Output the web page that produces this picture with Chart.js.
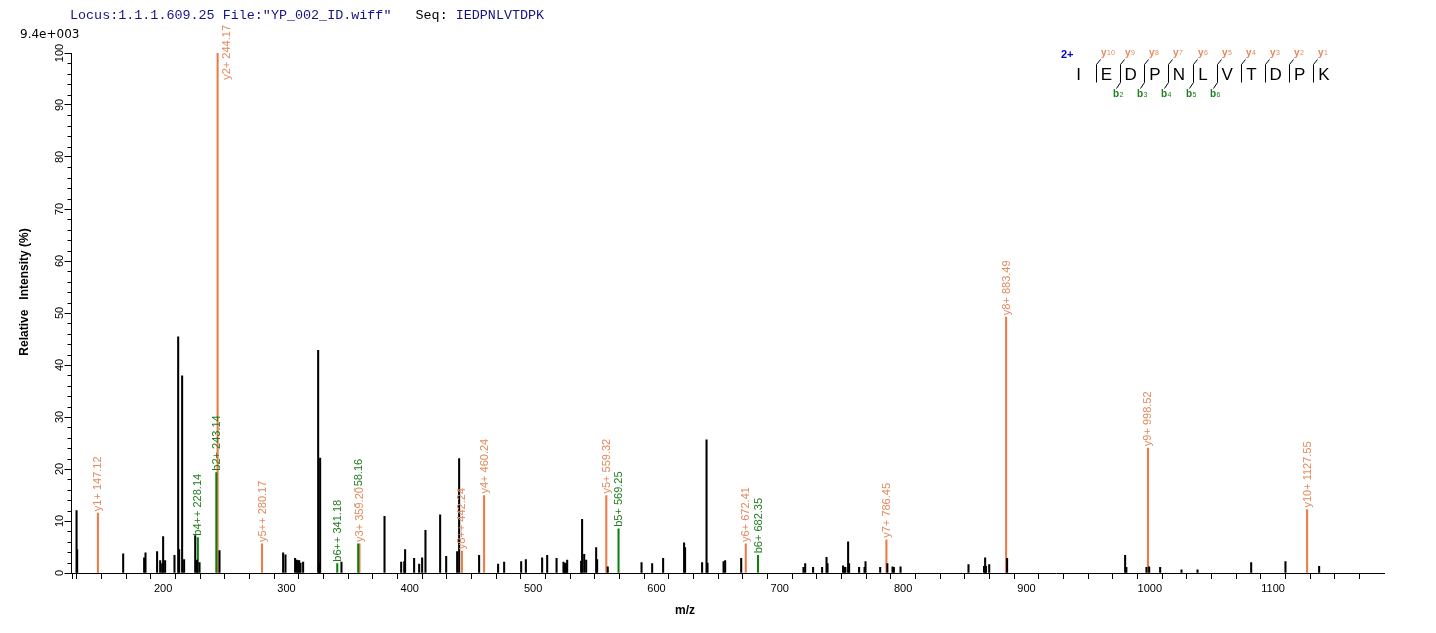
<!DOCTYPE html>
<html>
<head>
<meta charset="utf-8">
<script src="https://cdn.jsdelivr.net/npm/chart.js@4.4.1/dist/chart.umd.min.js"></script>
<style>
html,body{margin:0;padding:0;background:#fff;overflow:hidden;}
#wrap{position:relative;width:1436px;height:633px;}
canvas{display:block;}
</style>
</head>
<body>
<div id="wrap"><canvas id="c" width="1436" height="633"></canvas></div>
<script>
// ---------- text ----------
const headerLocus = 'Locus:1.1.1.609.25 File:"YP_002_ID.wiff"';
const headerSeqLabel = 'Seq:';
const peptide = 'IEDPNLVTDPK';
const maxIntensityLabel = '9.4e+003';
const xTitle = 'm/z';
const yTitle = 'Relative   Intensity (%)';
const chargeLabel = '2+';

// ---------- axes ----------
const xMin = 125.7, xMax = 1189.9;
const xTickValues = [140,160,180,200,220,240,260,280,300,320,340,360,380,400,420,440,460,480,500,520,540,560,580,600,620,640,660,680,700,720,740,760,780,800,820,840,860,880,900,920,940,960,980,1000,1020,1040,1060,1080,1100,1120,1140,1160,1180];
const xLabelValues = [200,300,400,500,600,700,800,900,1000,1100];
const xTickLabels = ['200','300','400','500','600','700','800','900','1000','1100'];
const yMajorValues = [0,10,20,30,40,50,60,70,80,90,100];
const yTickLabels = ['0','10','20','30','40','50','60','70','80','90','100'];
const yMinorValues = [2,4,6,8,12,14,16,18,22,24,26,28,32,34,36,38,42,44,46,48,52,54,56,58,62,64,66,68,72,74,76,78,82,84,86,88,92,94,96,98];

// ---------- unassigned peaks ----------
const otherMz = [129.8,130.3,167.6,184.6,185.7,195.1,197.6,199.2,200.0,201.6,209.2,212.2,213.0,215.4,217.0,226.0,227.5,229.5,245.7,297.3,299.2,307.0,308.3,309.5,310.3,311.4,313.5,325.7,326.5,327.3,344.6,379.5,393.0,395.5,396.2,403.5,407.6,410.0,412.7,424.6,429.5,438.4,440.0,456.2,471.6,476.5,490.3,494.1,507.3,511.4,519.0,524.6,525.4,526.2,527.0,527.6,538.9,539.7,541.4,543.0,551.1,551.9,560.5,587.9,596.5,605.4,622.4,623.2,637.0,640.6,641.4,654.4,655.7,668.7,719.2,720.6,727.0,734.3,737.9,738.7,751.3,752.4,753.2,755.4,756.2,764.3,768.7,769.5,781.4,787.2,791.4,792.5,797.9,853.0,865.6,866.5,867.2,869.8,884.3,980.0,981.0,997.3,999.5,1008.4,1025.7,1038.7,1082.2,1110.0,1137.3];
const otherInt = [12.0,4.5,3.7,2.9,3.9,4.1,2.4,1.8,7.0,2.4,3.4,45.4,4.5,37.9,2.6,7.2,2.5,2.0,4.3,3.9,3.5,2.8,2.5,2.4,2.4,1.9,2.1,42.8,1.8,22.1,2.1,10.9,2.1,2.2,4.5,2.8,1.7,2.9,8.2,11.2,3.2,4.1,22.0,3.4,1.7,2.1,2.2,2.6,2.9,3.4,2.8,2.1,1.8,1.9,1.8,2.5,2.3,10.3,3.6,2.5,4.9,2.6,1.2,2.0,1.8,2.8,5.8,4.9,2.0,25.6,1.9,2.2,2.4,2.8,1.1,1.8,1.1,1.1,3.0,1.8,1.4,1.1,1.1,6.0,1.8,1.1,1.1,2.2,1.1,1.8,1.2,1.1,1.2,1.6,1.3,2.9,1.3,1.6,2.8,3.4,1.1,1.1,1.2,1.1,0.6,0.6,2.0,2.2,1.3];

// ---------- y ions ----------
const yIonNames = ['y1+','y2+','y5++','y3+','y8++','y4+','y5+','y6+','y7+','y8+','y9+','y10+'];
const yIonMz = [147.12,244.17,280.17,359.20,442.24,460.24,559.32,672.41,786.45,883.49,998.52,1127.55];
const yIonInt = [11.5,100,5.6,5.6,4.2,14.9,14.9,5.6,6.4,49.2,24.0,12.2];

// ---------- b ions ----------
const bIonNames = ['b4++','b2+','b6++','b3+','b5+','b6+'];
const bIonMz = [228.14,243.14,341.18,358.16,569.25,682.35];
const bIonInt = [6.8,19.3,1.8,5.6,8.5,3.4];

// ---------- sequence annotation ----------
const yIonsInSeq = [10,9,8,7,6,5,4,3,2,1];
const bIonsInSeq = [2,3,4,5,6];

const FONT = 'Arial, "Liberation Sans", sans-serif';
const MONO = '"Liberation Mono", "Courier New", monospace';
const ORANGE_LINE = '#EE7A46';
const ORANGE_TEXT = '#E3895C';
const GREEN_LINE = '#0B800B';
const GREEN_TEXT = '#1F7D1F';

function pts(mz, it){ return mz.map((m,i)=>({x:m, y:it[i]})); }

const decorPlugin = {
  id: 'decor',
  afterDatasetsDraw(chart){
    const ctx = chart.ctx, xs = chart.scales.x, ys = chart.scales.y;
    ctx.save();
    ctx.font = '11px ' + FONT;
    const placed = [];
    const mk = (names, mzs, ints, color) => names.map((n,i)=>({text: n+' '+mzs[i].toFixed(2), mz: mzs[i], it: ints[i], color}));
    const yItems = mk(yIonNames, yIonMz, yIonInt, ORANGE_TEXT);
    const bItems = mk(bIonNames, bIonMz, bIonInt, GREEN_TEXT);
    const overlap = (a,b)=> a.l < b.r && b.l < a.r && a.t < b.b && b.t < a.b;
    function place(item){
      const px = xs.getPixelForValue(item.mz), py = ys.getPixelForValue(item.it);
      const w = ctx.measureText(item.text).width;
      let cx = px, bottom = py - 2;
      if (bottom - w < 22) { cx = px + 9; bottom = 25 + w; }
      let rect = {l: cx-5, r: cx+5, t: bottom-w, b: bottom};
      for (const p of placed) {
        if (overlap(rect, p.rect)) { bottom = p.rect.b - w/2; rect = {l: cx-5, r: cx+5, t: bottom-w, b: bottom}; }
      }
      item.cx = cx; item.bottom = bottom; item.w = w; item.rect = rect;
      placed.push(item);
    }
    yItems.forEach(place);
    bItems.forEach(place);
    function draw(item, bg){
      if (bg) { ctx.fillStyle = '#fff'; ctx.fillRect(item.cx-5, item.bottom-item.w-1, 10, item.w+2); }
      ctx.save();
      ctx.translate(item.cx, item.bottom);
      ctx.rotate(-Math.PI/2);
      ctx.textAlign = 'left';
      ctx.textBaseline = 'middle';
      ctx.fillStyle = item.color;
      ctx.fillText(item.text, 0, 0.5);
      ctx.restore();
    }
    bItems.forEach(it=>draw(it,false));
    yItems.forEach(it=>draw(it, bItems.some(b=>overlap(it.rect,b.rect))));
    ctx.restore();
  },
  afterDraw(chart){
    const ctx = chart.ctx, ys = chart.scales.y;
    const left = chart.chartArea.left, bottom = chart.chartArea.bottom;
    ctx.save();
    // header
    ctx.font = '13.4px ' + MONO;
    ctx.textBaseline = 'alphabetic';
    ctx.textAlign = 'left';
    let hx = 70;
    ctx.fillStyle = '#14148A';
    ctx.fillText(headerLocus, hx, 19);
    hx += ctx.measureText(headerLocus + '   ').width;
    ctx.fillStyle = '#000';
    ctx.fillText(headerSeqLabel, hx, 19);
    hx += ctx.measureText(headerSeqLabel + ' ').width;
    ctx.fillStyle = '#14148A';
    ctx.fillText(peptide, hx, 19);
    // max intensity
    ctx.font = '12px "DejaVu Sans", sans-serif';
    ctx.fillStyle = '#000';
    ctx.fillText(maxIntensityLabel, 20, 38);
    // y minor ticks
    ctx.strokeStyle = '#000';
    ctx.lineWidth = 1;
    ctx.beginPath();
    yMinorValues.forEach(v=>{
      const py = Math.round(ys.getPixelForValue(v)) + 0.5;
      ctx.moveTo(left - 4, py); ctx.lineTo(left, py);
    });
    ctx.moveTo(Math.round(left)+0.5, bottom); ctx.lineTo(Math.round(left)+0.5, bottom + 6);
    ctx.stroke();
    // y tick labels (rotated)
    ctx.font = '11px ' + FONT;
    ctx.fillStyle = '#000';
    yMajorValues.forEach((v,i)=>{
      const py = ys.getPixelForValue(v);
      ctx.save();
      ctx.translate(59.5, py);
      ctx.rotate(-Math.PI/2);
      ctx.textAlign = 'center';
      ctx.textBaseline = 'middle';
      ctx.fillText(yTickLabels[i], 0, 0);
      ctx.restore();
    });
    // axis titles
    ctx.font = 'bold 12px ' + FONT;
    ctx.save();
    ctx.translate(24.5, 292);
    ctx.rotate(-Math.PI/2);
    ctx.textAlign = 'center';
    ctx.textBaseline = 'middle';
    ctx.fillText(yTitle, 0, 0);
    ctx.restore();
    ctx.textAlign = 'center';
    ctx.textBaseline = 'middle';
    ctx.fillText(xTitle, 685, 611);

    // sequence annotation
    const sep0 = 1096, step = 24.15;
    ctx.font = 'bold 11px ' + FONT;
    ctx.fillStyle = '#0000CC';
    ctx.textAlign = 'left';
    ctx.textBaseline = 'alphabetic';
    ctx.fillText(chargeLabel, 1061, 58);
    ctx.font = '17px ' + FONT;
    ctx.fillStyle = '#000';
    ctx.textAlign = 'center';
    for (let i=0;i<peptide.length;i++){
      const cx = i===0 ? 1078.5 : sep0 + (i-1)*step + 10.5;
      ctx.fillText(peptide[i], cx, 79.5);
    }
    ctx.strokeStyle = '#000';
    ctx.lineWidth = 1;
    for (let k=1;k<peptide.length;k++){
      const sx = Math.round(sep0 + (k-1)*step) + 0.5;
      ctx.beginPath();
      ctx.moveTo(sx, 82.5); ctx.lineTo(sx, 64.5); ctx.lineTo(sx+4, 59.5);
      ctx.stroke();
      const yIdx = peptide.length - k;
      if (yIonsInSeq.includes(yIdx)){
        ctx.font = 'bold 10px ' + FONT;
        ctx.fillStyle = ORANGE_TEXT;
        ctx.textAlign = 'left';
        ctx.fillText('y', sx + 4.5, 56);
        const yw = ctx.measureText('y').width;
        ctx.font = '7px ' + FONT;
        ctx.fillText(String(yIdx), sx + 5 + yw, 55);
      }
      if (bIonsInSeq.includes(k)){
        ctx.beginPath();
        ctx.moveTo(sx, 82.5); ctx.lineTo(sx-4, 88.5);
        ctx.stroke();
        ctx.font = 'bold 10px ' + FONT;
        ctx.fillStyle = GREEN_TEXT;
        ctx.textAlign = 'left';
        ctx.fillText('b', sx - 7.5, 97);
        const bw = ctx.measureText('b').width;
        ctx.font = '7px ' + FONT;
        ctx.fillText(String(k), sx - 7 + bw, 97);
      }
    }
    ctx.restore();
  }
};

const chart = new Chart(document.getElementById('c').getContext('2d'), {
  type: 'bar',
  data: {
    datasets: [
      {label:'unassigned', data: pts(otherMz, otherInt), backgroundColor:'#000', borderWidth:0, barThickness:1.4, grouped:false},
      {label:'b ions', data: pts(bIonMz, bIonInt), backgroundColor: GREEN_LINE, borderWidth:0, barThickness:1.4, grouped:false},
      {label:'y ions', data: pts(yIonMz, yIonInt), backgroundColor: ORANGE_LINE, borderWidth:0, barThickness:1.4, grouped:false}
    ]
  },
  options: {
    responsive: false,
    animation: false,
    devicePixelRatio: 1,
    layout: {padding: {left:0, right:52, top:53, bottom:0}},
    plugins: {legend:{display:false}, tooltip:{enabled:false}, title:{display:false}},
    scales: {
      x: {
        type:'linear', min:xMin, max:xMax, offset:false,
        afterBuildTicks: s => { s.ticks = xTickValues.map(v=>({value:v})); },
        afterFit: s => { s.height = 60; },
        ticks: {
          autoSkip:false, maxRotation:0, minRotation:0, padding:3, color:'#000',
          font:{family: FONT, size:11},
          callback: v => { const i = xLabelValues.indexOf(v); return i>=0 ? xTickLabels[i] : ''; }
        },
        grid: {display:true, drawOnChartArea:false, drawTicks:true, tickLength:6, color:'#000', lineWidth:1},
        border: {display:true, color:'#000', width:1}
      },
      y: {
        type:'linear', min:0, max:100,
        afterBuildTicks: s => { s.ticks = yMajorValues.map(v=>({value:v})); },
        afterFit: s => { s.width = 71.5; },
        ticks: {display:false},
        grid: {display:true, drawOnChartArea:false, drawTicks:true, tickLength:7, color:'#000', lineWidth:1},
        border: {display:true, color:'#000', width:1}
      }
    }
  },
  plugins: [decorPlugin]
});
</script>
</body>
</html>
